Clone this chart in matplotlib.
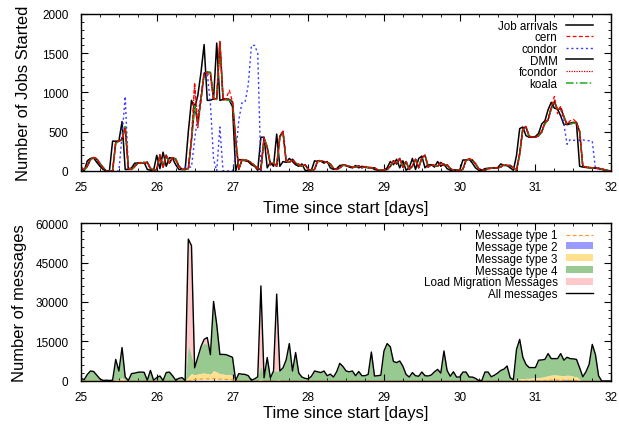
import numpy as np
import matplotlib
matplotlib.use("Agg")
import matplotlib.pyplot as plt
from matplotlib.ticker import MultipleLocator
from matplotlib.patches import Patch
from matplotlib.lines import Line2D

plt.rcParams['font.family'] = ['Liberation Sans', 'DejaVu Sans']

# hourly samples, day 25.0 .. 32.0
hours = 25 + np.arange(169) / 24.0

# ---- jobs started per scheduler ----
job_arrivals = [
    30, 0, 130, 160, 165, 110, 60, 20, 0, 0, 380, 380, 380, 630, 20, 20, 40, 100, 100, 100, 110, 20, 10, 10,
    200, 30, 240, 60, 170, 160, 80, 20, 20, 20, 500, 900, 800, 960, 1250, 1610, 900, 900, 920, 1630, 900, 910, 910, 900,
    820, 0, 145, 140, 130, 120, 80, 60, 10, 430, 430, 40, 110, 60, 470, 60, 120, 110, 160, 120, 80, 60, 90, 10,
    0, 10, 130, 120, 125, 100, 120, 40, 20, 30, 70, 75, 70, 50, 40, 70, 40, 60, 50, 40, 45, 20, 10, 10,
    10, 40, 120, 80, 150, 40, 130, 10, 40, 160, 20, 160, 190, 40, 80, 80, 50, 120, 60, 90, 30, 10, 10, 10,
    10, 140, 140, 150, 100, 40, 10, 10, 30, 35, 35, 40, 40, 90, 70, 70, 40, 10, 200, 540, 560, 450, 430, 430,
    440, 480, 600, 640, 780, 875, 800, 790, 700, 590, 600, 610, 620, 600, 60, 50, 45, 40, 40, 35, 30, 20, 10, 5,
    0]
cern = [
    45, 20, 70, 150, 175, 160, 100, 40, 0, 0, 0, 360, 380, 420, 540, 30, 20, 60, 100, 110, 100, 115, 30, 10,
    20, 210, 50, 190, 100, 170, 140, 60, 20, 20, 30, 420, 1130, 550, 900, 1230, 1250, 1200, 900, 930, 1650, 900, 920, 1030,
    880, 380, 20, 150, 140, 130, 100, 70, 30, 20, 420, 280, 80, 100, 60, 450, 510, 120, 110, 150, 100, 90, 60, 80,
    20, 10, 20, 140, 130, 120, 110, 90, 30, 20, 40, 75, 70, 60, 45, 55, 65, 40, 55, 45, 40, 40, 15, 10,
    10, 20, 60, 140, 90, 165, 50, 120, 20, 60, 150, 40, 170, 200, 50, 80, 70, 60, 110, 70, 80, 30, 10, 10,
    10, 20, 140, 160, 140, 90, 30, 10, 10, 30, 35, 40, 40, 50, 80, 70, 70, 40, 10, 220, 540, 570, 440, 430,
    430, 450, 510, 620, 660, 820, 950, 730, 830, 690, 600, 640, 660, 620, 500, 60, 50, 45, 40, 40, 35, 25, 15, 5,
    0]
condor = [
    40, 20, 60, 150, 170, 150, 90, 40, 0, 0, 0, 0, 0, 450, 950, 20, 20, 60, 100, 100, 100, 110, 30, 10,
    20, 200, 50, 200, 100, 170, 150, 60, 20, 50, 50, 50, 400, 700, 950, 1250, 1250, 850, 150, 0, 560, 0, 0, 0,
    0, 200, 650, 870, 880, 1100, 1600, 1600, 1500, 0, 430, 300, 80, 100, 60, 440, 500, 120, 110, 150, 100, 80, 60, 80,
    20, 10, 20, 130, 125, 120, 110, 90, 30, 20, 40, 75, 70, 60, 45, 50, 65, 40, 55, 45, 40, 40, 15, 10,
    10, 20, 60, 130, 90, 160, 50, 120, 20, 60, 150, 40, 170, 200, 50, 80, 70, 60, 110, 70, 80, 30, 10, 10,
    10, 20, 140, 150, 140, 90, 30, 10, 10, 30, 35, 40, 40, 50, 80, 70, 70, 40, 10, 220, 540, 560, 440, 430,
    430, 450, 500, 610, 650, 800, 880, 780, 800, 600, 340, 400, 390, 395, 390, 395, 390, 385, 380, 30, 30, 25, 15, 5,
    0]
dmm = [
    40, 20, 60, 150, 170, 150, 90, 40, 0, 0, 0, 370, 380, 400, 560, 30, 20, 60, 100, 100, 100, 110, 30, 10,
    20, 200, 50, 200, 100, 170, 150, 60, 20, 20, 30, 400, 850, 600, 920, 1240, 1260, 1250, 920, 920, 1640, 920, 920, 910,
    880, 400, 20, 140, 140, 130, 100, 70, 30, 20, 420, 300, 80, 100, 60, 440, 500, 120, 110, 150, 100, 80, 60, 80,
    20, 10, 20, 130, 125, 120, 110, 90, 30, 20, 40, 75, 70, 60, 45, 50, 65, 40, 55, 45, 40, 40, 15, 10,
    10, 20, 60, 130, 90, 160, 50, 120, 20, 60, 150, 40, 170, 200, 50, 80, 70, 60, 110, 70, 80, 30, 10, 10,
    10, 20, 140, 150, 140, 90, 30, 10, 10, 30, 35, 40, 40, 50, 80, 70, 70, 40, 10, 220, 540, 560, 440, 430,
    430, 450, 500, 610, 650, 800, 880, 780, 800, 690, 590, 600, 610, 620, 500, 60, 50, 45, 40, 40, 35, 25, 15, 5,
    0]
fcondor = [
    40, 20, 60, 150, 170, 150, 90, 40, 0, 0, 0, 370, 380, 400, 550, 30, 20, 60, 100, 100, 100, 110, 30, 10,
    20, 200, 50, 200, 100, 170, 150, 60, 20, 20, 30, 400, 1100, 600, 920, 1240, 1260, 1250, 920, 920, 1640, 920, 920, 920,
    880, 400, 20, 140, 140, 130, 100, 70, 30, 20, 420, 300, 80, 100, 60, 440, 500, 120, 110, 150, 100, 80, 60, 80,
    20, 10, 20, 130, 125, 120, 110, 90, 30, 20, 40, 75, 70, 60, 45, 50, 65, 40, 55, 45, 40, 40, 15, 10,
    10, 20, 60, 130, 90, 160, 50, 120, 20, 60, 150, 40, 170, 200, 50, 80, 70, 60, 110, 70, 80, 30, 10, 10,
    10, 20, 140, 150, 140, 90, 30, 10, 10, 30, 35, 40, 40, 50, 80, 70, 70, 40, 10, 220, 540, 560, 440, 430,
    430, 450, 500, 610, 650, 800, 900, 780, 810, 690, 590, 610, 620, 620, 500, 60, 50, 45, 40, 40, 35, 25, 15, 5,
    0]
koala = [
    40, 20, 50, 140, 170, 160, 100, 50, 0, 0, 0, 350, 380, 390, 580, 40, 20, 50, 100, 100, 110, 110, 40, 10,
    20, 180, 60, 190, 110, 160, 160, 70, 20, 20, 30, 380, 830, 620, 900, 1230, 1260, 1260, 930, 910, 1650, 920, 910, 900,
    870, 420, 30, 140, 140, 130, 110, 70, 30, 20, 400, 320, 80, 110, 60, 420, 490, 130, 110, 140, 110, 80, 60, 80,
    20, 10, 20, 120, 130, 120, 110, 90, 40, 20, 40, 70, 70, 60, 50, 50, 60, 45, 55, 45, 40, 40, 20, 10,
    10, 20, 50, 120, 100, 150, 60, 110, 30, 60, 140, 50, 160, 200, 60, 80, 70, 60, 100, 80, 80, 30, 10, 10,
    10, 20, 130, 150, 140, 100, 30, 10, 10, 30, 35, 40, 40, 50, 80, 70, 70, 40, 10, 200, 530, 560, 450, 430,
    430, 450, 490, 600, 650, 790, 870, 790, 800, 700, 600, 600, 610, 610, 510, 60, 50, 45, 40, 40, 35, 25, 15, 5,
    0]

# ---- messages ----
all_messages = [
    1000, 500, 2500, 3800, 3600, 2200, 800, 200, 300, 200, 300, 8200, 3800, 12700, 1500, 200, 2800, 3000, 3300, 3400, 3300, 300, 4000, 300,
    1300, 1900, 200, 3200, 3400, 2000, 300, 1000, 1300, 200, 53900, 51400, 5000, 9000, 13000, 15800, 16500, 10000, 30200, 21500, 10100, 10100, 10000, 9500,
    9000, 200, 2800, 2600, 2500, 2000, 300, 800, 1600, 36100, 1200, 8900, 1200, 3800, 33000, 3800, 5000, 8000, 14200, 3800, 10800, 3000, 1500, 1000,
    800, 1800, 3800, 3500, 3200, 3800, 2000, 2600, 1500, 3500, 6700, 5500, 3800, 3500, 3800, 2000, 3600, 2000, 2000, 2500, 11000, 1900, 2000, 2200,
    11400, 14200, 13000, 7400, 7000, 7600, 5600, 2500, 1500, 3200, 2000, 1800, 3400, 2000, 1900, 2300, 3500, 4400, 3000, 11400, 4000, 1800, 3500, 1500,
    1500, 3400, 3400, 1500, 1500, 1000, 200, 200, 3400, 3400, 1600, 2200, 3000, 4000, 4500, 5700, 1200, 500, 12000, 15800, 9000, 6300, 5100, 5100,
    5100, 7900, 8000, 8200, 10400, 8500, 8500, 8500, 10400, 7900, 9000, 8500, 8400, 8200, 5000, 1600, 3500, 6300, 13900, 10100, 2000, 0, 0, 0,
    0]
load_migration = [
    0, 0, 0, 0, 0, 0, 0, 0, 0, 0, 0, 0, 0, 0, 0, 0, 0, 0, 0, 0, 0, 0, 0, 0,
    0, 0, 0, 0, 0, 0, 0, 0, 0, 0, 40400, 41900, 0, 0, 0, 1500, 2500, 0, 0, 0, 0, 0, 0, 0,
    0, 0, 0, 0, 0, 0, 0, 0, 0, 30400, 0, 0, 0, 0, 29200, 0, 0, 0, 0, 0, 0, 0, 0, 0,
    0, 0, 0, 0, 0, 0, 0, 0, 0, 0, 0, 0, 0, 0, 0, 0, 0, 0, 0, 0, 0, 0, 0, 0,
    0, 0, 0, 0, 0, 0, 0, 0, 0, 0, 0, 0, 0, 0, 0, 0, 0, 0, 0, 0, 0, 0, 0, 0,
    0, 0, 0, 0, 0, 0, 0, 0, 0, 0, 0, 0, 0, 0, 0, 0, 0, 0, 0, 0, 0, 0, 0, 0,
    0, 0, 0, 0, 0, 0, 0, 0, 0, 0, 0, 0, 0, 0, 0, 0, 0, 0, 0, 0, 0, 0, 0, 0,
    0]
msg_type3 = [
    0, 0, 0, 0, 0, 0, 0, 0, 0, 0, 0, 600, 500, 1200, 300, 0, 0, 0, 0, 0, 0, 0, 0, 0,
    0, 0, 0, 0, 0, 0, 0, 0, 0, 0, 1500, 2500, 1800, 2000, 2200, 2200, 2000, 1800, 3000, 2600, 2000, 1900, 1800, 1800,
    1600, 0, 0, 0, 0, 0, 0, 0, 0, 800, 200, 0, 0, 0, 600, 300, 0, 0, 0, 0, 0, 0, 0, 0,
    0, 0, 0, 0, 0, 0, 0, 0, 0, 0, 0, 0, 0, 0, 0, 0, 0, 0, 0, 0, 0, 0, 0, 0,
    0, 0, 0, 0, 0, 0, 0, 0, 0, 0, 0, 0, 0, 0, 0, 0, 0, 0, 0, 0, 0, 0, 0, 0,
    0, 0, 0, 0, 0, 0, 0, 0, 0, 0, 0, 0, 0, 0, 0, 0, 0, 0, 400, 800, 900, 1000, 1000, 1100,
    1200, 1300, 1400, 1500, 1800, 1900, 2000, 1900, 1800, 1600, 1500, 1600, 1600, 1500, 600, 0, 0, 0, 0, 0, 0, 0, 0, 0,
    0]
msg_type2 = [
    0, 0, 0, 0, 0, 0, 0, 0, 0, 0, 0, 0, 0, 0, 0, 0, 0, 0, 0, 0, 0, 0, 0, 0,
    0, 0, 0, 0, 0, 0, 0, 0, 0, 0, 0, 0, 0, 0, 0, 0, 0, 0, 0, 0, 0, 0, 0, 0,
    0, 0, 0, 0, 0, 0, 0, 0, 0, 0, 0, 0, 0, 0, 0, 0, 0, 0, 0, 0, 0, 0, 0, 0,
    0, 0, 0, 0, 0, 0, 0, 0, 0, 0, 0, 0, 0, 0, 0, 0, 0, 0, 0, 0, 0, 0, 0, 0,
    0, 0, 0, 0, 0, 0, 0, 0, 0, 0, 0, 0, 0, 0, 0, 0, 0, 0, 0, 0, 0, 0, 0, 0,
    0, 0, 0, 0, 0, 0, 0, 0, 0, 0, 0, 0, 0, 0, 0, 0, 0, 0, 0, 0, 0, 0, 0, 0,
    0, 0, 0, 0, 0, 0, 0, 0, 0, 200, 500, 300, 0, 0, 0, 0, 0, 0, 0, 0, 0, 0, 0, 0,
    0]
msg_type1 = [
    0, 0, 0, 0, 0, 0, 0, 0, 0, 0, 0, 0, 0, 0, 0, 0, 0, 0, 0, 0, 0, 0, 0, 0,
    0, 0, 0, 0, 0, 0, 0, 0, 0, 0, 0, 300, 500, 600, 700, 800, 800, 700, 900, 800, 700, 700, 600, 600,
    500, 0, 0, 0, 0, 0, 0, 0, 0, 0, 0, 0, 0, 0, 0, 0, 0, 0, 0, 0, 0, 0, 0, 0,
    0, 0, 0, 0, 0, 0, 0, 0, 0, 0, 0, 0, 0, 0, 0, 0, 0, 0, 0, 0, 0, 0, 0, 0,
    0, 0, 0, 0, 0, 0, 0, 0, 0, 0, 0, 0, 0, 0, 0, 0, 0, 0, 0, 0, 0, 0, 0, 0,
    0, 0, 0, 0, 0, 0, 0, 0, 0, 0, 0, 0, 0, 0, 0, 0, 0, 0, 0, 0, 0, 0, 0, 0,
    0, 0, 0, 100, 200, 300, 300, 300, 300, 200, 200, 200, 150, 100, 0, 0, 0, 0, 0, 0, 0, 0, 0, 0,
    0]

for s in (job_arrivals, cern, condor, dmm, fcondor, koala, all_messages,
          load_migration, msg_type3, msg_type2, msg_type1):
    assert len(s) == len(hours), len(s)

# cumulative levels of the stacked message types
t1 = np.array(msg_type1, float)
c2 = t1 + np.array(msg_type2, float)
c3 = c2 + np.array(msg_type3, float)
c5 = np.array(all_messages, float)
c4 = c5 - np.array(load_migration, float)

fig = plt.figure(figsize=(6.19, 4.27), dpi=100)
ax1 = fig.add_axes([0.1309, 0.5972, 0.8565, 0.3677])
ax2 = fig.add_axes([0.1309, 0.1054, 0.8565, 0.3700])

# ---- top panel ----
ax1.plot(hours, job_arrivals, color='black', lw=1.1, label='Job arrivals')
ax1.plot(hours, condor, color='#3a3aff', lw=1.0, ls=(0, (1.5, 2)), label='condor')
ax1.plot(hours, dmm, color='black', lw=1.1, label='DMM')
ax1.plot(hours, koala, color='#22aa22', lw=1.1, ls=(0, (5, 1.5, 1, 1.5)), label='koala')
ax1.plot(hours, fcondor, color='#cc0000', lw=0.9, ls=(0, (1, 1)), label='fcondor')
ax1.plot(hours, cern, color='#ff0000', lw=0.9, ls=(0, (3, 2)), label='cern')

h, l = ax1.get_legend_handles_labels()
order = ['Job arrivals', 'cern', 'condor', 'DMM', 'fcondor', 'koala']
h = [h[l.index(n)] for n in order]
ax1.legend(h, order, loc='upper right', bbox_to_anchor=(0.965, 0.962), frameon=False,
           markerfirst=False, fontsize=8.4, handlelength=2.3, handletextpad=0.7,
           labelspacing=-0.04, borderpad=0, borderaxespad=0)

ax1.set_ylim(0, 2000)
ax1.yaxis.set_major_locator(MultipleLocator(500))
ax1.yaxis.set_minor_locator(MultipleLocator(100))
ax1.set_ylabel('Number of Jobs Started', fontsize=11.9, labelpad=8)
ax1.set_xlabel('Time since start [days]', fontsize=11.9, labelpad=5)

# ---- bottom panel ----
ax2.fill_between(hours, c4, c5, color='#ffc9c9', lw=0)
ax2.fill_between(hours, c3, c4, color='#98c991', lw=0)
ax2.fill_between(hours, c2, c3, color='#ffe08e', lw=0)
ax2.fill_between(hours, t1, c2, color='#9a9aff', lw=0)
ax2.plot(hours, t1, color='#ff9933', lw=0.9, ls=(0, (3, 2)))
ax2.plot(hours, c5, color='black', lw=1.0)

handles2 = [
    Line2D([], [], color='#ff9933', lw=0.9, ls=(0, (3, 2))),
    Patch(facecolor='#9a9aff', edgecolor='none'),
    Patch(facecolor='#ffe08e', edgecolor='none'),
    Patch(facecolor='#98c991', edgecolor='none'),
    Patch(facecolor='#ffc9c9', edgecolor='none'),
    Line2D([], [], color='black', lw=1.0),
]
labels2 = ['Message type 1', 'Message type 2', 'Message type 3', 'Message type 4',
           'Load Migration Messages', 'All messages']
ax2.legend(handles2, labels2, loc='upper right', bbox_to_anchor=(0.965, 0.96), frameon=False,
           markerfirst=False, fontsize=8.4, handlelength=2.3, handletextpad=0.7,
           handleheight=0.55, labelspacing=-0.02, borderpad=0, borderaxespad=0)

ax2.set_ylim(0, 60000)
ax2.yaxis.set_major_locator(MultipleLocator(15000))
ax2.yaxis.set_minor_locator(MultipleLocator(3000))
ax2.set_ylabel('Number of messages', fontsize=11.9, labelpad=6)
ax2.set_xlabel('Time since start [days]', fontsize=11.9, labelpad=2)

for ax in (ax1, ax2):
    ax.set_xlim(25, 32)
    ax.xaxis.set_major_locator(MultipleLocator(1))
    ax.xaxis.set_minor_locator(MultipleLocator(0.25))
    ax.tick_params(which='both', direction='in', top=True, right=True, labelsize=8.5)
    ax.tick_params(which='major', length=5, width=0.8)
    ax.tick_params(which='minor', length=2.5, width=0.6)
    ax.tick_params(axis='y', pad=9)
    ax.tick_params(axis='x', pad=7)
    for sp in ax.spines.values():
        sp.set_linewidth(1.0)

fig.savefig('out.png', dpi=100)
